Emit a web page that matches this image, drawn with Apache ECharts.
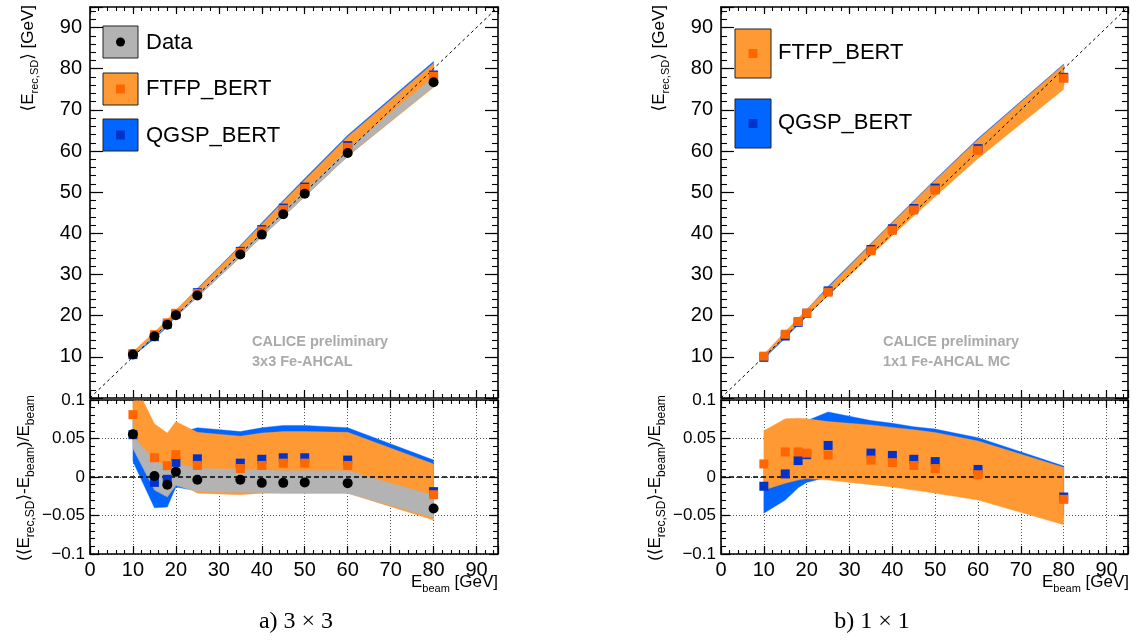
<!DOCTYPE html>
<html><head><meta charset="utf-8">
<script src="https://cdn.jsdelivr.net/npm/echarts@6/dist/echarts.min.js"></script>
<style>html,body{margin:0;padding:0;background:#fff}#c{width:1142px;height:641px}</style>
</head><body><div id="c"></div>
<script>
// ---------------- DATA ----------------
const E_BEAM = [10, 15, 18, 20, 25, 35, 40, 45, 50, 60, 80];
const E_RANGE = [0, 95];
const X_TICKS = [0, 10, 20, 30, 40, 50, 60, 70, 80, 90];

// (a) 3x3 : top panel <E_rec,SD> [GeV]
const A_DATA_EREC = [10.56, 15.02, 17.82, 20.13, 24.91, 34.87, 39.70, 44.66, 49.65, 59.52, 76.72];
const A_FTFP_EREC = [10.81, 15.38, 18.26, 20.58, 25.38, 35.39, 40.60, 45.81, 50.90, 60.90, 78.16];
const A_QGSP_EREC = [10.55, 14.90, 17.95, 20.38, 25.59, 35.63, 40.92, 46.13, 51.25, 61.32, 78.48];
// (a) 3x3 : bottom panel relative deviation
const A_DATA_RATIO = [0.0556, 0.0013, -0.0100, 0.0067, -0.0035, -0.0036, -0.0076, -0.0076, -0.0070, -0.0080, -0.0410];
const A_FTFP_RATIO = [0.0810, 0.0250, 0.0147, 0.0290, 0.0150, 0.0110, 0.0150, 0.0180, 0.0180, 0.0150, -0.0230];
const A_QGSP_RATIO = [0.0550, -0.0070, -0.0030, 0.0190, 0.0236, 0.0180, 0.0230, 0.0250, 0.0250, 0.0220, -0.0190];
// (a) uncertainty bands (relative)
const A_DATA_BAND_LO = [0.037, -0.017, -0.026, -0.011, -0.019, -0.020, -0.020, -0.021, -0.021, -0.021, -0.053];
const A_DATA_BAND_HI = [0.053, 0.022, 0.012, 0.018, 0.011, 0.010, 0.009, 0.008, 0.008, 0.008, -0.024];
const A_FTFP_BAND_LO = [0.045, -0.005, -0.010, -0.005, -0.021, -0.023, -0.021, -0.021, -0.021, -0.021, -0.056];
const A_FTFP_BAND_HI = [0.126, 0.069, 0.057, 0.072, 0.058, 0.053, 0.057, 0.059, 0.059, 0.058, 0.017];
const A_QGSP_BAND_LO = [0.020, -0.040, -0.039, -0.013, -0.018, -0.019, -0.019, -0.020, -0.020, -0.020, -0.050];
const A_QGSP_BAND_HI = [0.075, 0.030, 0.020, 0.056, 0.064, 0.059, 0.064, 0.067, 0.067, 0.064, 0.022];

// (b) 1x1 : top panel
const B_FTFP_EREC = [10.17, 15.49, 18.59, 20.62, 25.71, 35.77, 40.75, 45.68, 50.55, 60.18, 77.68];
const B_QGSP_EREC = [9.88, 15.06, 18.38, 20.58, 26.03, 36.09, 41.12, 46.04, 51.00, 60.59, 77.92];
// (b) 1x1 : bottom panel
const B_FTFP_RATIO = [0.0170, 0.0326, 0.0326, 0.0310, 0.0285, 0.0220, 0.0187, 0.0150, 0.0110, 0.0030, -0.0290];
const B_QGSP_RATIO = [-0.0120, 0.0040, 0.0213, 0.0290, 0.0410, 0.0310, 0.0280, 0.0230, 0.0200, 0.0098, -0.0260];
// (b) bands
const B_FTFP_BAND_LO = [-0.017, -0.008, -0.004, -0.002, -0.004, -0.010, -0.013, -0.017, -0.021, -0.030, -0.062];
const B_FTFP_BAND_HI = [0.060, 0.0756, 0.0764, 0.0756, 0.072, 0.0676, 0.0644, 0.0613, 0.0578, 0.0467, 0.0124];
const B_QGSP_BAND_LO = [-0.047, -0.030, -0.014, -0.007, 0.000, -0.005, -0.008, -0.012, -0.015, -0.022, -0.050];
const B_QGSP_BAND_HI = [0.020, 0.030, 0.050, 0.073, 0.0845, 0.0733, 0.0698, 0.0653, 0.0622, 0.0511, 0.0142];

// ---------------- STYLE / LAYOUT ----------------
const FONT = "'Liberation Sans', Helvetica, Arial, 'DejaVu Sans', sans-serif";
const SERIF = "'Liberation Serif', 'DejaVu Serif', serif";
const C_ORANGE_BAND = '#FF9933', C_ORANGE_PT = '#FF6600';
const C_BLUE_BAND = '#0066FF', C_BLUE_PT = '#0033CC';
const C_GREY_BAND = '#B3B3B3';
const GRIDS = [
  {left: 90, top: 7, width: 408, height: 391},
  {left: 90, top: 400, width: 408, height: 154},
  {left: 721, top: 7, width: 407, height: 391},
  {left: 721, top: 400, width: 407, height: 154}
];

const xAxes = [], yAxes = [];
function fmtNum(v) {
  const r = Math.round(v * 1000) / 1000;
  return r < 0 ? '\u2212' + String(-r) : String(r);
}
function addAxisPair(list, gi, pos, c) {
  const common = {gridIndex: gi, type: 'value', position: pos, min: c.min, max: c.max,
    axisLine: {show: false, onZero: false}, splitLine: {show: false}, axisLabel: {show: false},
    minorTick: {show: false}, silent: true};
  const maj = Object.assign({}, common, {
    interval: c.major,
    axisLine: {show: true, onZero: false, lineStyle: {color: '#000', width: 1.6}},
    axisTick: {show: true, inside: true, length: c.majLen, lineStyle: {color: '#000', width: 1.2}},
    axisLabel: c.labels ? Object.assign({show: true, color: '#000', fontFamily: FONT,
      hideOverlap: false, showMinLabel: true, showMaxLabel: true}, c.labels) : {show: false},
    splitLine: c.split ? {show: true, lineStyle: {color: '#555', width: 1, type: [1, 2]}} : {show: false},
    z: 1
  });
  const mnr = Object.assign({}, common, {
    interval: c.minor,
    axisTick: {show: true, inside: true, length: c.minLen, lineStyle: {color: '#000', width: 1.1}},
    z: 1
  });
  list.push(maj); const idx = list.length - 1; list.push(mnr);
  return idx;
}
const isMult = (v, m) => Math.abs(v / m - Math.round(v / m)) < 1e-6;

const AX = [];
GRIDS.forEach((g, gi) => {
  const bottomPanel = gi % 2 === 1;
  const xc = {min: E_RANGE[0], max: E_RANGE[1], major: 10, minor: 2, majLen: 8, minLen: 4};
  const xi = addAxisPair(xAxes, gi, 'bottom', Object.assign({}, xc, bottomPanel ? {
    labels: {fontSize: 20, margin: 6, formatter: v => (X_TICKS.indexOf(Math.round(v)) >= 0 && isMult(v, 10)) ? String(Math.round(v)) : ''},
    split: true} : {}));
  addAxisPair(xAxes, gi, 'top', Object.assign({}, xc, {majLen: bottomPanel ? 8 : 7, minLen: 4}));
  let yc;
  if (!bottomPanel) {
    yc = {min: E_RANGE[0], max: E_RANGE[1], major: 10, minor: 2, majLen: 13, minLen: 6};
  } else {
    yc = {min: -0.1, max: 0.1, major: 0.05, minor: 0.01, majLen: 9, minLen: 5};
  }
  const yLab = !bottomPanel
    ? {fontSize: 20, margin: 8, formatter: v => (v > 0 && isMult(v, 10)) ? String(Math.round(v)) : ''}
    : {fontSize: 17, margin: 5, formatter: v => isMult(v, 0.05) ? fmtNum(v) : ''};
  const yi = addAxisPair(yAxes, gi, 'left', Object.assign({}, yc, {labels: yLab, split: bottomPanel}));
  addAxisPair(yAxes, gi, 'right', yc);
  AX.push({x: xi, y: yi});
});

// Sutherland-Hodgman polygon clip to a rect
function clipPoly(pts, x0, y0, x1, y1) {
  const bounds = [
    [p => p[0] >= x0, (a, b) => { const t = (x0 - a[0]) / (b[0] - a[0]); return [x0, a[1] + t * (b[1] - a[1])]; }],
    [p => p[0] <= x1, (a, b) => { const t = (x1 - a[0]) / (b[0] - a[0]); return [x1, a[1] + t * (b[1] - a[1])]; }],
    [p => p[1] >= y0, (a, b) => { const t = (y0 - a[1]) / (b[1] - a[1]); return [a[0] + t * (b[0] - a[0]), y0]; }],
    [p => p[1] <= y1, (a, b) => { const t = (y1 - a[1]) / (b[1] - a[1]); return [a[0] + t * (b[0] - a[0]), y1]; }]
  ];
  let out = pts;
  bounds.forEach(([inside, inter]) => {
    const inp = out; out = [];
    for (let i = 0; i < inp.length; i++) {
      const cur = inp[i], prev = inp[(i + inp.length - 1) % inp.length];
      if (inside(cur)) {
        if (!inside(prev)) out.push(inter(prev, cur));
        out.push(cur);
      } else if (inside(prev)) {
        out.push(inter(prev, cur));
      }
    }
  });
  return out;
}

function band(gi, lo, hi, color, scaleByBeam) {
  const data = E_BEAM.map((e, i) => scaleByBeam
    ? [e, e * (1 + lo[i]), e * (1 + hi[i])]
    : [e, lo[i], hi[i]]);
  return {
    type: 'custom', xAxisIndex: AX[gi].x, yAxisIndex: AX[gi].y, z: 2, silent: true,
    data: data, encode: {x: 0, y: [1, 2]},
    renderItem: function (params, api) {
      if (params.dataIndex !== 0) return null;
      const pts = [];
      data.forEach(d => pts.push(api.coord([d[0], d[2]])));
      for (let i = data.length - 1; i >= 0; i--) pts.push(api.coord([data[i][0], data[i][1]]));
      const cs = params.coordSys;
      const poly = clipPoly(pts, cs.x + 0.8, cs.y + 0.8, cs.x + cs.width - 0.8, cs.y + cs.height - 0.8);
      return {type: 'polygon', shape: {points: poly}, style: {fill: color, stroke: color, lineWidth: 0.4}};
    }
  };
}
function markers(gi, vals, symbol, size, color) {
  return {
    type: 'scatter', xAxisIndex: AX[gi].x, yAxisIndex: AX[gi].y, z: 4, silent: true,
    symbol: symbol, symbolSize: size,
    itemStyle: {color: color, opacity: 1},
    data: E_BEAM.map((e, i) => [e, vals[i]])
  };
}
function refLine(gi, diag, dash, width) {
  return {
    type: 'line', xAxisIndex: AX[gi].x, yAxisIndex: AX[gi].y, z: 3, silent: true,
    symbol: 'none', animation: false,
    lineStyle: {color: '#000', width: width, type: dash},
    data: E_RANGE.map(v => [v, diag ? v : 0])
  };
}

const series = [
  // (a) top
  band(0, A_QGSP_BAND_LO, A_QGSP_BAND_HI, C_BLUE_BAND, true),
  band(0, A_FTFP_BAND_LO, A_FTFP_BAND_HI, C_ORANGE_BAND, true),
  band(0, A_DATA_BAND_LO, A_DATA_BAND_HI, C_GREY_BAND, true),
  refLine(0, true, [3, 3], 1),
  markers(0, A_QGSP_EREC, 'rect', 9, C_BLUE_PT),
  markers(0, A_FTFP_EREC, 'rect', 9, C_ORANGE_PT),
  markers(0, A_DATA_EREC, 'circle', 10, '#000'),
  // (a) bottom
  band(1, A_QGSP_BAND_LO, A_QGSP_BAND_HI, C_BLUE_BAND, false),
  band(1, A_FTFP_BAND_LO, A_FTFP_BAND_HI, C_ORANGE_BAND, false),
  band(1, A_DATA_BAND_LO, A_DATA_BAND_HI, C_GREY_BAND, false),
  refLine(1, false, [5, 3], 1.5),
  markers(1, A_QGSP_RATIO, 'rect', 9, C_BLUE_PT),
  markers(1, A_FTFP_RATIO, 'rect', 9, C_ORANGE_PT),
  markers(1, A_DATA_RATIO, 'circle', 10, '#000'),
  // (b) top
  band(2, B_QGSP_BAND_LO, B_QGSP_BAND_HI, C_BLUE_BAND, true),
  band(2, B_FTFP_BAND_LO, B_FTFP_BAND_HI, C_ORANGE_BAND, true),
  refLine(2, true, [3, 3], 1),
  markers(2, B_QGSP_EREC, 'rect', 9, C_BLUE_PT),
  markers(2, B_FTFP_EREC, 'rect', 9, C_ORANGE_PT),
  // (b) bottom
  band(3, B_QGSP_BAND_LO, B_QGSP_BAND_HI, C_BLUE_BAND, false),
  band(3, B_FTFP_BAND_LO, B_FTFP_BAND_HI, C_ORANGE_BAND, false),
  refLine(3, false, [5, 3], 1.5),
  markers(3, B_QGSP_RATIO, 'rect', 9, C_BLUE_PT),
  markers(3, B_FTFP_RATIO, 'rect', 9, C_ORANGE_PT)
];

// ---------------- TEXT / LEGEND GRAPHICS ----------------
const RICH = {
  n: {fontSize: 17, fontFamily: FONT, lineHeight: 24, verticalAlign: 'middle', fill: '#000'},
  s: {fontSize: 11, fontFamily: FONT, lineHeight: 12, verticalAlign: 'bottom', fill: '#000'},
  N: {fontSize: 17, fontFamily: FONT, lineHeight: 26, verticalAlign: 'middle', fill: '#000'},
  S: {fontSize: 12, fontFamily: FONT, lineHeight: 13, verticalAlign: 'bottom', fill: '#000'}
};
const T_TOP_Y = '{n|\u27E8E}{s|rec,SD}{n|\u27E9 [GeV]}';
const T_BOT_Y = '{N|(\u27E8E}{S|rec,SD}{N|\u27E9-E}{S|beam}{N|)/E}{S|beam}';
const T_X = '{n|E}{s|beam}{n| [GeV]}';

function rotText(x, y, text, align) {
  return {type: 'text', x: x, y: y, rotation: Math.PI / 2, silent: true,
    style: {text: text, rich: RICH, align: align, verticalAlign: 'middle', fill: '#000'}};
}
function plainText(x, y, text, font, color, align) {
  return {type: 'text', x: x, y: y, silent: true,
    style: {text: text, font: font, fill: color, align: align || 'left', verticalAlign: 'middle'}};
}
function legendBox(x, y, w, h, fill, inner) {
  const cx = x + w / 2, cy = y + h / 2;
  const els = [{type: 'rect', silent: true, shape: {x: x, y: y, width: w, height: h},
    style: {fill: fill, stroke: '#222', lineWidth: 1}}];
  if (inner.type === 'circle') {
    els.push({type: 'circle', silent: true, shape: {cx: cx, cy: cy, r: 4.5}, style: {fill: inner.color}});
  } else {
    els.push({type: 'rect', silent: true, shape: {x: cx - 4.5, y: cy - 4.5, width: 9, height: 9}, style: {fill: inner.color}});
  }
  return els;
}

const LEGEND_FONT = '22px ' + FONT;
const PRELIM_FONT = 'bold 14.5px ' + FONT;
const graphics = [].concat(
  rotText(28, 5, T_TOP_Y, 'right'),
  rotText(24, 478, T_BOT_Y, 'center'),
  {type: 'text', x: 498, y: 582, silent: true, style: {text: T_X, rich: RICH, align: 'right', verticalAlign: 'middle'}},
  rotText(659, 5, T_TOP_Y, 'right'),
  rotText(655, 478, T_BOT_Y, 'center'),
  {type: 'text', x: 1129, y: 582, silent: true, style: {text: T_X, rich: RICH, align: 'right', verticalAlign: 'middle'}},
  legendBox(103, 26, 35, 32, C_GREY_BAND, {type: 'circle', color: '#000'}),
  legendBox(103, 73, 35, 32, C_ORANGE_BAND, {type: 'rect', color: C_ORANGE_PT}),
  legendBox(103, 119, 35, 32, C_BLUE_BAND, {type: 'rect', color: C_BLUE_PT}),
  plainText(146, 43, 'Data', LEGEND_FONT, '#000'),
  plainText(146, 89, 'FTFP_BERT', LEGEND_FONT, '#000'),
  plainText(146, 136, 'QGSP_BERT', LEGEND_FONT, '#000'),
  legendBox(735, 29, 36, 49, C_ORANGE_BAND, {type: 'rect', color: C_ORANGE_PT}),
  legendBox(735, 99, 36, 49, C_BLUE_BAND, {type: 'rect', color: C_BLUE_PT}),
  plainText(778, 53, 'FTFP_BERT', LEGEND_FONT, '#000'),
  plainText(778, 123, 'QGSP_BERT', LEGEND_FONT, '#000'),
  plainText(252, 342, 'CALICE preliminary', PRELIM_FONT, '#AAAAAA'),
  plainText(252, 362, '3x3 Fe-AHCAL', PRELIM_FONT, '#AAAAAA'),
  plainText(883, 342, 'CALICE preliminary', PRELIM_FONT, '#AAAAAA'),
  plainText(883, 362, '1x1 Fe-AHCAL MC', PRELIM_FONT, '#AAAAAA'),
  plainText(296, 622, 'a) 3 \u00D7 3', '24px ' + SERIF, '#000', 'center'),
  plainText(872, 622, 'b) 1 \u00D7 1', '24px ' + SERIF, '#000', 'center')
);

const chart = echarts.init(document.getElementById('c'), null, {renderer: 'canvas'});
chart.setOption({
  animation: false,
  backgroundColor: '#fff',
  grid: GRIDS.map(g => Object.assign({containLabel: false, outerBoundsMode: 'none', show: false}, g)),
  xAxis: xAxes,
  yAxis: yAxes,
  series: series,
  graphic: {elements: graphics}
});
</script>
</body></html>
